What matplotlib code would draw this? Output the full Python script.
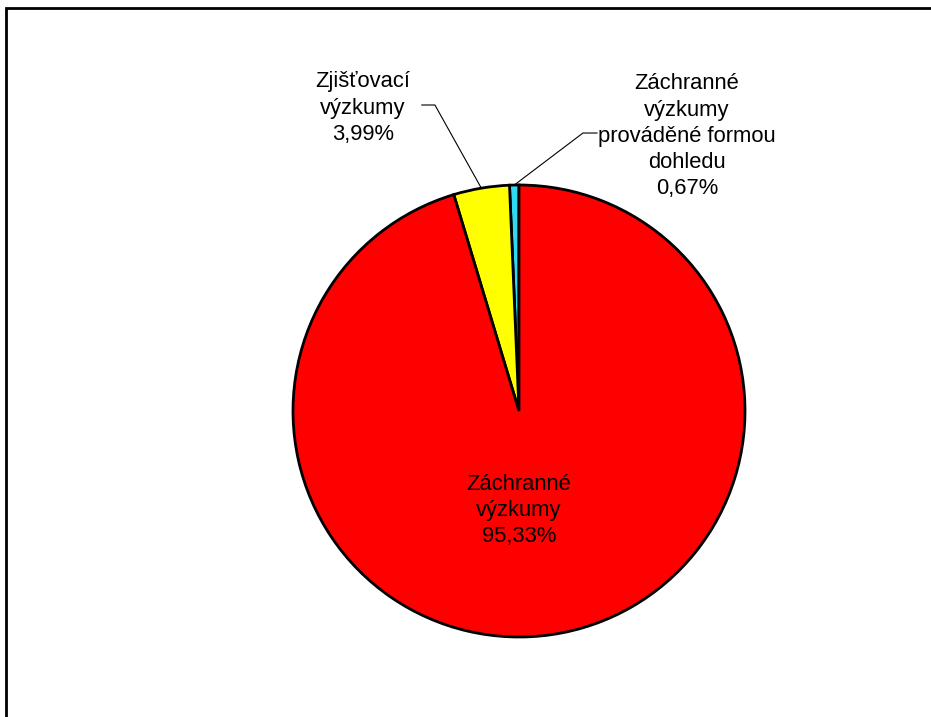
import numpy as np
import matplotlib
matplotlib.use("Agg")
import matplotlib.pyplot as plt
from matplotlib.patches import Rectangle

# slices, counterclockwise from the top
labels = ["Záchranné\nvýzkumy\nprováděné formou\ndohledu", "Zjišťovací\nvýzkumy", "Záchranné\nvýzkumy"]
values = [0.67, 3.99, 95.33]
colors = ["#30D8F0", "#FFFF00", "#FF0000"]

plt.rcParams['font.family'] = ['Liberation Sans', 'DejaVu Sans']

W, H = 931, 717
fig = plt.figure(figsize=(W / 100, H / 100), dpi=100)

# outer frame (only top and left visible in the reference)
fig.patches.append(Rectangle((6 / W, -0.1), 1.2, (H - 8) / H + 0.1, transform=fig.transFigure,
                             fill=False, edgecolor='black', linewidth=2, clip_on=False))

cx, cy, r = 519, 411, 226
ax = fig.add_axes([(cx - r) / W, (H - cy - r) / H, 2 * r / W, 2 * r / H])
wedges, _ = ax.pie(values, colors=colors, startangle=90, counterclock=True,
                   wedgeprops=dict(edgecolor='black', linewidth=2))
ax.set_xlim(-1, 1)
ax.set_ylim(-1, 1)
ax.set_aspect('equal')
ax.axis('off')

def fmt(v):
    return f"{v:.2f}".replace('.', ',') + "%"

fs = 15.8
ls = 1.33

# large slice label inside
ax.text(0, -0.44, labels[2] + "\n" + fmt(values[2]), ha='center', va='center',
        fontsize=fs, linespacing=ls)

# outside labels with leader lines
def mid_angle(i):
    start = 90 + sum(values[:i]) * 3.6
    return np.deg2rad(start + values[i] * 3.6 / 2)

# yellow slice label
a = mid_angle(1)
ax.text(-0.69, 1.34, labels[1] + "\n" + fmt(values[1]), ha='center', va='center',
        fontsize=fs, linespacing=ls, clip_on=False)
ax.plot([-0.43, -0.372, np.cos(a)], [1.354, 1.354, np.sin(a)], color='black', lw=0.8, clip_on=False)

# cyan slice label
a = mid_angle(0)
ax.text(0.743, 1.215, labels[0] + "\n" + fmt(values[0]), ha='center', va='center',
        fontsize=fs, linespacing=ls, clip_on=False)
ax.plot([0.345, 0.283, np.cos(a)], [1.23, 1.23, np.sin(a)], color='black', lw=0.8, clip_on=False)

fig.savefig("out.png", dpi=100)
